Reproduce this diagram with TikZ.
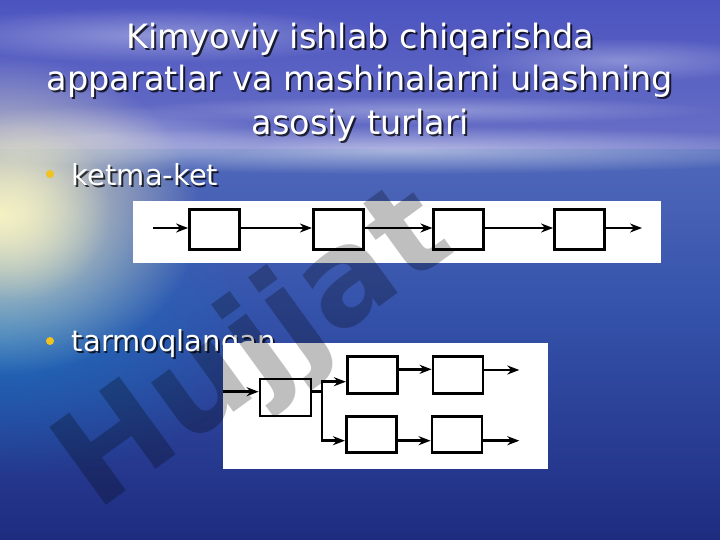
\documentclass[tikz,border=0pt]{standalone}
\usepackage{fontspec}
\setmainfont{DejaVu Sans}
\usetikzlibrary{arrows.meta,fadings,calc}
\tikzfading[name=glowfade, inner color=transparent!0, outer color=transparent!100]
\definecolor{skytop}{HTML}{4C54C0}
\definecolor{skybot}{HTML}{6870C6}
\definecolor{seatop}{HTML}{5068BA}
\definecolor{seamid}{HTML}{3654AC}
\definecolor{seabot}{HTML}{1E2C80}
\definecolor{glowc}{HTML}{F6F2C4}
\definecolor{bullety}{HTML}{F2C21E}
\begin{document}
\begin{tikzpicture}[x=1pt,y=-1pt,
  titletxt/.style={font=\fontsize{33.5}{40}\selectfont, text=white, inner sep=0, anchor=base},
  titleshadow/.style={font=\fontsize{33.5}{40}\selectfont, text=black, opacity=.75, inner sep=0, anchor=base},
  bultxt/.style={font=\fontsize{29}{34}\selectfont, text=white, inner sep=0, anchor=base west},
  bulshadow/.style={font=\fontsize{29}{34}\selectfont, text=black, opacity=.75, inner sep=0, anchor=base west},
  bulletdot/.style={circle, fill=bullety, inner sep=0, minimum size=8pt},
  panel/.style={fill=white, inner sep=0, anchor=north west},
  blk/.style={draw=black, line width=2.8pt, fill=white, inner sep=0, minimum width=50pt, minimum height=40pt},
  blks/.style={blk, minimum height=36.5pt},
  arr/.style={line width=2.5pt, -{Stealth[length=12pt,width=9pt]}},
  ln/.style={line width=2.5pt}
]
\useasboundingbox (0,0) rectangle (720,540);
% background
\shade[top color=skytop, bottom color=skybot] (0,0) rectangle (720,150);
\shade[top color=seatop, bottom color=seamid] (0,150) rectangle (720,300);
\shade[top color=seamid, bottom color=seabot] (0,300) rectangle (720,540);
\fill[white, opacity=.35, path fading=glowfade] (150,35) ellipse (230 and 28);
\fill[white, opacity=.3, path fading=glowfade] (620,60) ellipse (160 and 22);
\fill[white, opacity=.3, path fading=glowfade] (420,110) ellipse (300 and 14);
\fill[white, opacity=.5, path fading=glowfade] (400,150) ellipse (460 and 24);
\fill[white, opacity=.35, path fading=glowfade] (100,135) ellipse (170 and 30);
\fill[cyan!70!blue, opacity=.55, path fading=glowfade] (0,330) ellipse (260 and 150);
\fill[glowc, opacity=1, path fading=glowfade] (0,215) ellipse (200 and 160);
\fill[glowc, opacity=.6, path fading=glowfade] (20,210) ellipse (90 and 90);
% title
\node[titleshadow] (t1s) at (362,50.5) {Kimyoviy ishlab chiqarishda};
\node[titletxt] (t1) at (360,48.5) {Kimyoviy ishlab chiqarishda};
\node[titleshadow] (t2s) at (362,93) {apparatlar va mashinalarni ulashning};
\node[titletxt] (t2) at (360,91) {apparatlar va mashinalarni ulashning};
\node[titleshadow] (t3s) at (362,137) {asosiy turlari};
\node[titletxt] (t3) at (360,135) {asosiy turlari};
% bullets
\node[bulletdot] (d1) at (50,174) {};
\node[bulshadow] (k1s) at (73.5,188) {ketma-ket};
\node[bultxt] (k1) at (71.7,186) {ketma-ket};
\node[bulletdot] (d2) at (50,341) {};
\node[bulshadow] (k2s) at (73.5,353.5) {tarmoqlangan};
\node[bultxt] (k2) at (71.7,351.7) {tarmoqlangan};
% panel 1
\node[panel, minimum width=528pt, minimum height=62pt] (p1) at (133,201) {};
\node[blk] (a1) at (214.5,229.3) {};
\node[blk] (a2) at (338.3,229.3) {};
\node[blk] (a3) at (458.8,229.3) {};
\node[blk] (a4) at (579.5,229.3) {};
\coordinate (in1) at (153,228);
\coordinate (out1) at (642,228);
\draw[arr] (in1) -- (in1 -| a1.west);
\draw[arr] (in1 -| a1.east) -- (in1 -| a2.west);
\draw[arr] (in1 -| a2.east) -- (in1 -| a3.west);
\draw[arr] (in1 -| a3.east) -- (in1 -| a4.west);
\draw[arr] (in1 -| a4.east) -- (out1);
% panel 2
\node[panel, minimum width=325pt, minimum height=125.5pt] (p2) at (223,342.8) {};
\node[blk, minimum width=51pt, minimum height=37pt] (bA) at (285.5,397.5) {};
\node[blks] (bB) at (372.3,375) {};
\node[blks] (bC) at (458,375) {};
\node[blks] (bD) at (371.3,434.4) {};
\node[blks] (bE) at (457,434.4) {};
\coordinate (in2) at (223,391.7);
\coordinate (fork) at (321.8,391.7);
\coordinate (forktop) at (321.8,381.7);
\coordinate (forkbot) at (321.8,440.7);
\coordinate (outC) at (519.3,370);
\coordinate (outE) at (519.3,440.7);
\draw[arr] (in2) -- (in2 -| bA.west);
\draw[ln] (in2 -| bA.east) -- (fork);
\draw[ln, line cap=rect] (forktop) -- (forkbot);
\draw[arr] (forktop) -- (forktop -| bB.west);
\draw[arr] (forkbot) -- (forkbot -| bD.west);
\draw[arr] ([yshift=5.7pt]bB.east) -- ([yshift=5.7pt]bC.west);
\draw[arr] ([yshift=5pt]bC.east) -- (outC);
\draw[arr] ([yshift=-6.3pt]bD.east) -- ([yshift=-6.3pt]bE.west);
\draw[arr] ([yshift=-6.3pt]bE.east) -- (outE);
% watermark
\node[rotate=36, font=\bfseries\fontsize{132}{132}\selectfont, text=black, opacity=.25, inner sep=0] (wm) at (256,352) {Hujjat};
\end{tikzpicture}
\end{document}
